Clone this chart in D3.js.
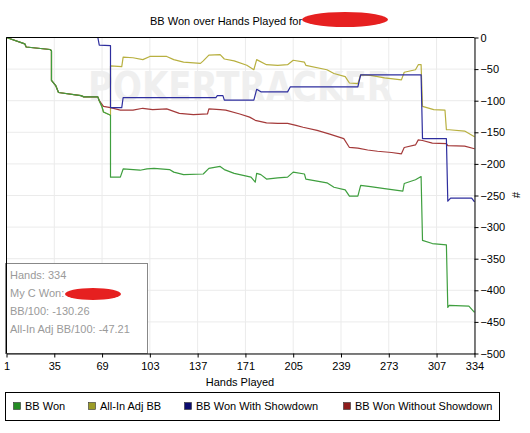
<!DOCTYPE html>
<html><head><meta charset="utf-8">
<script src="https://cdn.jsdelivr.net/npm/d3@7/dist/d3.min.js"></script>
<style>body{margin:0;background:#fff}svg{display:block;font-family:"Liberation Sans",Arial,sans-serif}</style>
</head><body><svg id="c" width="530" height="433"></svg>
<script>
const xTicks = [1,35,69,103,137,171,205,239,273,307,334];
const yTicks = [0,-50,-100,-150,-200,-250,-300,-350,-400,-450,-500];
const seriesNames = ["BB Won","All-In Adj BB","BB Won With Showdown","BB Won Without Showdown"];
const bbWon = [[1,0],[14,-10],[15,-15],[32,-19],[33,-21],[33,-68],[36,-76],[38,-87],[54,-92],[56,-94],[66,-94],[67,-100],[69,-110],[70,-118],[75,-123],[75,-221],[82,-221],[84,-208],[96,-210],[101,-208],[106,-207],[117,-209],[120,-213],[127,-217],[141,-216],[145,-207],[153,-204],[156,-209],[163,-215],[175,-221],[178,-229],[179,-215],[182,-217],[186,-224],[194,-222],[201,-221],[205,-213],[213,-216],[214,-224],[229,-230],[234,-237],[242,-241],[245,-251],[251,-251],[253,-234],[260,-236],[270,-239],[283,-243],[284,-231],[292,-225],[296,-220],[297,-321],[304,-326],[314,-328],[315,-427],[316,-424],[330,-425],[334,-435]];
const allInAdj = [[1,0],[14,-10],[15,-15],[32,-19],[33,-21],[33,-68],[36,-76],[38,-87],[54,-92],[56,-94],[66,-94],[67,-100],[69,-110],[70,-118],[75,-123],[75,-45],[83,-46],[84,-31],[91,-32],[98,-35],[103,-30],[115,-30],[120,-35],[127,-39],[139,-41],[141,-37],[145,-28],[153,-27],[156,-34],[163,-37],[172,-44],[177,-51],[179,-35],[186,-43],[194,-44],[201,-43],[205,-36],[213,-39],[214,-44],[229,-51],[234,-57],[242,-62],[245,-72],[251,-73],[253,-59],[260,-60],[270,-64],[282,-67],[284,-55],[292,-51],[294,-43],[296,-43],[297,-109],[305,-114],[313,-115],[314,-146],[316,-146],[327,-148],[334,-157]];
const withShowdown = [[1,0],[66,0],[67,-12],[75,-13],[75,-111],[83,-111],[84,-95],[150,-95],[151,-92],[155,-92],[156,-99],[177,-99],[179,-82],[182,-86],[201,-86],[203,-78],[251,-78],[253,-59],[296,-59],[297,-160],[314,-160],[315,-259],[317,-254],[332,-254],[334,-260]];
const withoutShowdown = [[1,0],[14,-10],[15,-15],[32,-19],[33,-21],[33,-68],[36,-76],[38,-87],[54,-92],[56,-94],[66,-94],[67,-100],[70,-109],[75,-111],[82,-115],[91,-115],[98,-112],[105,-114],[115,-113],[124,-120],[134,-122],[144,-121],[145,-113],[153,-114],[157,-115],[167,-121],[174,-126],[178,-131],[186,-135],[194,-136],[201,-136],[207,-139],[212,-142],[222,-147],[231,-153],[241,-160],[245,-174],[251,-175],[258,-178],[265,-180],[275,-182],[282,-184],[284,-174],[292,-170],[294,-162],[297,-163],[304,-167],[314,-168],[315,-171],[327,-172],[334,-176]];
const infoLines = ["Hands: 334","My C Won:","BB/100: -130.26","All-In Adj BB/100: -47.21"];

const lineColors = ["#3f9f3f","#b8b040","#2e2e9e","#a43a3a"];
const swatchColors = ["#238c23","#9c9c26","#0c0c70","#8e1c1c"];

const svg = d3.select("#c");
const L=6.5,R=474.5,T=37.5,B=353.5;
const x = d3.scaleLinear().domain([1,334]).range([L,R]);
const y = d3.scaleLinear().domain([-500,0]).range([B,T]);

// grid
svg.append("g").selectAll("line").data(xTicks).join("line")
  .attr("x1",d=>x(d)).attr("x2",d=>x(d)).attr("y1",T).attr("y2",B)
  .attr("stroke","#ebebeb");
svg.append("g").selectAll("line").data(yTicks).join("line")
  .attr("x1",L).attr("x2",R).attr("y1",d=>y(d)).attr("y2",d=>y(d))
  .attr("stroke","#ebebeb");

// watermark
svg.append("text").attr("x",88).attr("y",101).attr("font-size",40).attr("font-weight","bold")
  .attr("font-family","DejaVu Sans, sans-serif").attr("fill","#efefef")
  .attr("textLength",305).attr("lengthAdjust","spacingAndGlyphs").text("POKERTRACKER");

// lines
const line = d3.line().x(d=>x(d[0])).y(d=>y(d[1]));
const data = [allInAdj, withoutShowdown, withShowdown, bbWon];
const cols = [lineColors[1], lineColors[3], lineColors[2], lineColors[0]];
data.forEach((s,i)=>{
  svg.append("path").attr("d",line(s)).attr("fill","none")
    .attr("stroke",cols[i]).attr("stroke-width",1.2).attr("stroke-linejoin","round");
});

// info box
svg.append("rect").attr("x",5.5).attr("y",263.5).attr("width",142).attr("height",90)
  .attr("fill","#fff").attr("stroke","#888");
svg.append("g").selectAll("text").data(infoLines).join("text")
  .attr("x",10).attr("y",(d,i)=>279+i*18).attr("font-size",11).attr("fill","#9a9a9a").text(d=>d);
svg.append("ellipse").attr("cx",93).attr("cy",294).attr("rx",28).attr("ry",6).attr("fill","#e62020");

// frame
svg.append("line").attr("x1",L).attr("x2",R).attr("y1",T).attr("y2",T).attr("stroke","#000");
svg.append("line").attr("x1",L).attr("x2",L).attr("y1",T).attr("y2",B).attr("stroke","#000");

// axes
const xa = svg.append("g").attr("transform",`translate(0,${B})`)
  .call(d3.axisBottom(x).tickValues(xTicks).tickSize(4).tickSizeOuter(0).tickFormat(d3.format("d")));
const ya = svg.append("g").attr("transform",`translate(${R},0)`)
  .call(d3.axisRight(y).tickValues(yTicks).tickSize(4).tickSizeOuter(0).tickFormat(d3.format("d")));
[xa,ya].forEach(a=>{a.selectAll("text").attr("font-size",11).attr("fill","#000").attr("font-family","Liberation Sans, Arial, sans-serif");
  a.select(".domain").attr("stroke","#000"); a.selectAll(".tick line").attr("stroke","#000");});
xa.selectAll("text").attr("dy","0.9em");
ya.selectAll("text").attr("dx","-0.1em");

// titles
svg.append("text").attr("x",150).attr("y",25).attr("font-size",11).text("BB Won over Hands Played for");
svg.append("ellipse").attr("cx",345).attr("cy",19.5).attr("rx",43).attr("ry",7.5).attr("fill","#e62020");
svg.append("text").attr("x",240).attr("y",386).attr("font-size",11).attr("text-anchor","middle").text("Hands Played");
svg.append("text").attr("transform","translate(512,195) rotate(90)").attr("font-size",11)
  .attr("text-anchor","middle").text("#");

// legend
svg.append("rect").attr("x",5.5).attr("y",392.5).attr("width",494).attr("height",28)
  .attr("fill","#fff").attr("stroke","#000");
const legX = [13,88,184,343];
seriesNames.forEach((n,i)=>{
  svg.append("rect").attr("x",legX[i]+0.5).attr("y",402.5).attr("width",7).attr("height",7)
    .attr("fill",swatchColors[i]).attr("stroke","#333").attr("stroke-width",0.6);
  svg.append("text").attr("x",legX[i]+12).attr("y",410).attr("font-size",11).text(n);
});
</script></body></html>
